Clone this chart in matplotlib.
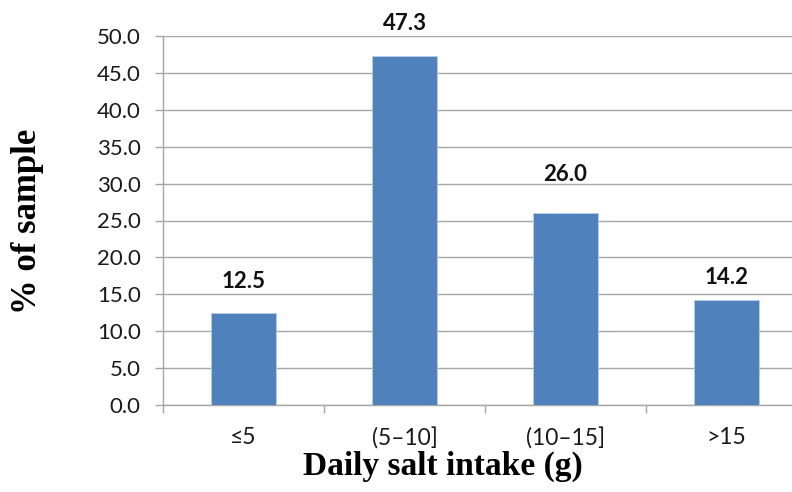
import matplotlib
matplotlib.use('Agg')
from matplotlib import pyplot as plt
import numpy as np

# Data
categories = ['\u22645', '(5\u201310]', '(10\u201315]', '>15']
percent = [12.5, 47.3, 26.0, 14.2]
value_labels = ['12.5', '47.3', '26.0', '14.2']
# label lift above each bar top, in pixels (labels were hand placed)
label_lift = [31, 32, 39, 23]

ytick_vals = np.arange(0, 50.1, 5)

bar_color = '#4F81BD'
grid_color = '#A6A6A6'
tick_font = ['Lato', 'DejaVu Sans']

fig = plt.figure(figsize=(7.92, 4.92), dpi=100)
# axes run past the right edge, as in the cropped original
ax = fig.add_axes([163/792, 1 - 405/492, 644/792, (405-36)/492])

x = np.arange(len(categories))
bars = ax.bar(x, percent, width=0.4, color=bar_color,
              edgecolor='#B9CDE5', linewidth=0.6, zorder=3)

ax.set_xlim(-0.5, len(categories) - 0.5)
ax.set_ylim(0, 50)

# horizontal gridlines
ax.set_yticks(ytick_vals)
ax.set_yticklabels(['%.1f' % v for v in ytick_vals], family=tick_font,
                   fontsize=16, color='#1a1a1a')
ax.yaxis.grid(True, color=grid_color, linewidth=1.0, zorder=0)
ax.tick_params(axis='y', length=6, width=1, color=grid_color, pad=10)

# category boundaries get tick marks, centres get the labels
ax.set_xticks(np.arange(len(categories) + 1) - 0.5)
ax.set_xticklabels([])
ax.set_xticks(x, minor=True)
ax.set_xticklabels(categories, minor=True, family=tick_font,
                   fontsize=16.5, color='#1a1a1a')
ax.tick_params(axis='x', which='major', length=6, width=1, color=grid_color)
ax.tick_params(axis='x', which='minor', length=0, pad=16)

for side in ['top', 'right']:
    ax.spines[side].set_visible(False)
for side in ['left', 'bottom']:
    ax.spines[side].set_color(grid_color)
    ax.spines[side].set_linewidth(1.0)

# value labels above bars
for b, txt, lift in zip(bars, value_labels, label_lift):
    ax.annotate(txt, (b.get_x() + b.get_width()/2, b.get_height()),
                xytext=(0, lift * 0.72), textcoords='offset points',
                ha='center', va='center', fontsize=16, fontweight='bold',
                family=tick_font, color='#111111')

# axis titles
fig.text(28/792, 1 - 221/492, '% of sample', rotation=90, ha='center',
         va='center', family='Liberation Serif', fontweight='bold',
         fontsize=25)
fig.text(443/792, 1 - 466/492, 'Daily salt intake (g)', ha='center',
         va='center', family='Liberation Serif', fontweight='bold',
         fontsize=24)

fig.savefig('out.png', dpi=100)
